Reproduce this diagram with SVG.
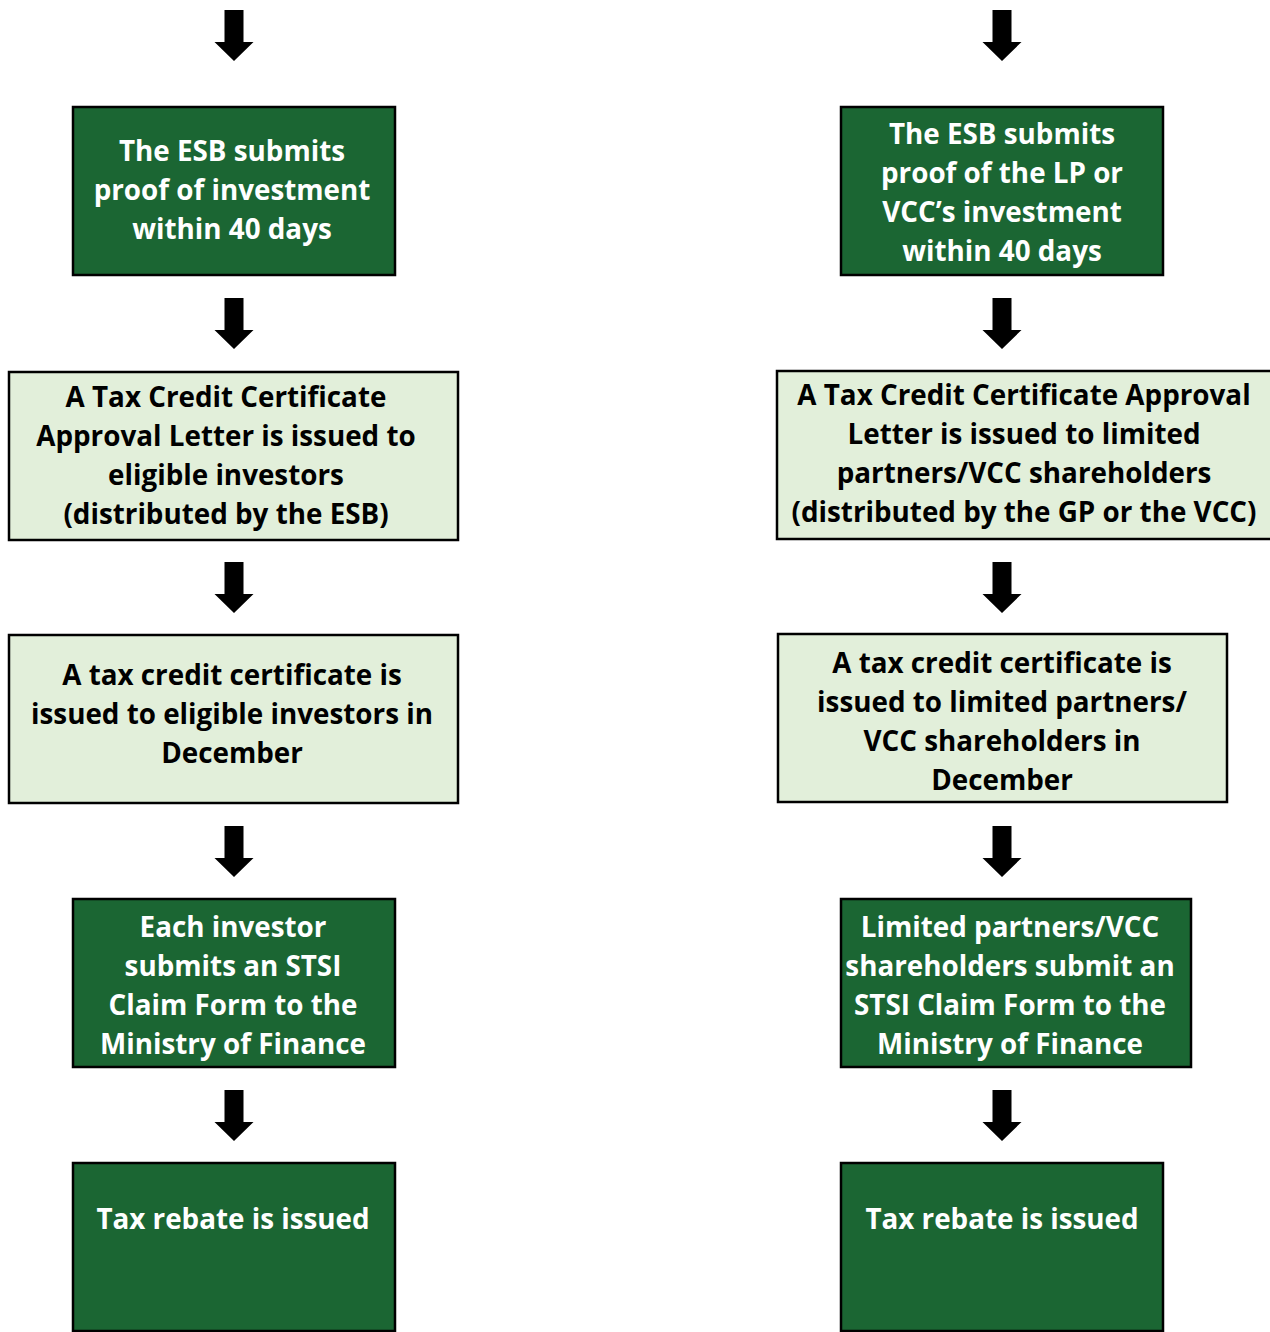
<svg xmlns="http://www.w3.org/2000/svg" width="1270" height="1332" viewBox="0 0 1270 1332">
<defs>
<style>
.dark{fill:#1B6633;stroke:#000;stroke-width:2.5}
.light{fill:#E2EFDA;stroke:#000;stroke-width:2.5}
text{font-family:"Open Sans","Noto Sans","DejaVu Sans",sans-serif;font-weight:bold;font-size:27.8px;text-anchor:middle}
.w{fill:#fff}
.k{fill:#000}
.arr{fill:#000}
</style>
<polygon id="arrow" points="-9.5,0 9.5,0 9.5,32 19.5,32 0,51 -19.5,32 -9.5,32"/>
</defs>
<rect width="1270" height="1332" fill="#fff"/>
<g id="connectors" class="arr">
<use href="#arrow" x="234" y="10"/>
<use href="#arrow" x="234" y="298"/>
<use href="#arrow" x="234" y="562"/>
<use href="#arrow" x="234" y="826"/>
<use href="#arrow" x="234" y="1090"/>
<use href="#arrow" x="1002" y="10"/>
<use href="#arrow" x="1002" y="298"/>
<use href="#arrow" x="1002" y="562"/>
<use href="#arrow" x="1002" y="826"/>
<use href="#arrow" x="1002" y="1090"/>
</g>
<g id="L1"><rect class="dark" x="73" y="107" width="322" height="168"/>
<text class="w" x="232"><tspan x="232" y="161">The ESB submits</tspan><tspan x="232" y="200">proof of investment</tspan><tspan x="232" y="239">within 40 days</tspan></text></g>
<g id="L2"><rect class="light" x="9" y="372" width="449" height="168"/>
<text class="k"><tspan x="226" y="407">A Tax Credit Certificate</tspan><tspan x="226" y="446">Approval Letter is issued to</tspan><tspan x="226" y="485">eligible investors</tspan><tspan x="226" y="524">(distributed by the ESB)</tspan></text></g>
<g id="L3"><rect class="light" x="9" y="635" width="449" height="168"/>
<text class="k"><tspan x="232" y="685">A tax credit certificate is</tspan><tspan x="232" y="724">issued to eligible investors in</tspan><tspan x="232" y="763">December</tspan></text></g>
<g id="L4"><rect class="dark" x="73" y="899" width="322" height="168"/>
<text class="w"><tspan x="233" y="937">Each investor</tspan><tspan x="233" y="976">submits an STSI</tspan><tspan x="233" y="1015">Claim Form to the</tspan><tspan x="233" y="1054">Ministry of Finance</tspan></text></g>
<g id="L5"><rect class="dark" x="73" y="1163" width="322" height="168"/>
<text class="w" x="233" y="1229">Tax rebate is issued</text></g>
<g id="R1"><rect class="dark" x="841" y="107" width="322" height="168"/>
<text class="w"><tspan x="1002" y="144">The ESB submits</tspan><tspan x="1002" y="183">proof of the LP or</tspan><tspan x="1002" y="222">VCC’s investment</tspan><tspan x="1002" y="261">within 40 days</tspan></text></g>
<g id="R2"><rect class="light" x="777" y="371" width="496" height="168"/>
<text class="k"><tspan x="1024" y="405">A Tax Credit Certificate Approval</tspan><tspan x="1024" y="444">Letter is issued to limited</tspan><tspan x="1024" y="483">partners/VCC shareholders</tspan><tspan x="1024" y="522">(distributed by the GP or the VCC)</tspan></text></g>
<g id="R3"><rect class="light" x="778" y="634" width="449" height="168"/>
<text class="k"><tspan x="1002" y="673">A tax credit certificate is</tspan><tspan x="1002" y="712">issued to limited partners/</tspan><tspan x="1002" y="751">VCC shareholders in</tspan><tspan x="1002" y="790">December</tspan></text></g>
<g id="R4"><rect class="dark" x="841" y="899" width="350" height="168"/>
<text class="w"><tspan x="1010" y="937">Limited partners/VCC</tspan><tspan x="1010" y="976">shareholders submit an</tspan><tspan x="1010" y="1015">STSI Claim Form to the</tspan><tspan x="1010" y="1054">Ministry of Finance</tspan></text></g>
<g id="R5"><rect class="dark" x="841" y="1163" width="322" height="168"/>
<text class="w" x="1002" y="1229">Tax rebate is issued</text></g>
</svg>
